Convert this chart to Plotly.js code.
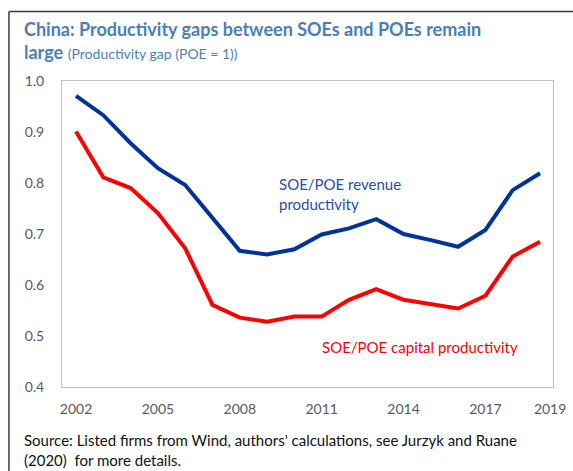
<!DOCTYPE html>
<html>
<head>
<meta charset="utf-8">
<script src="https://cdn.plot.ly/plotly-3.0.1.min.js"></script>
<style>
html,body{margin:0;padding:0;background:#fff;}
#chart{width:573px;height:471px;}
</style>
</head>
<body>
<div id="chart"></div>
<script>
const years = [2002,2003,2004,2005,2006,2007,2008,2009,2010,2011,2012,2013,2014,2015,2016,2017,2018,2019];
const revenueProductivity = [0.971,0.933,0.878,0.829,0.796,0.731,0.667,0.660,0.670,0.699,0.711,0.729,0.700,0.688,0.675,0.708,0.786,0.819];
const capitalProductivity = [0.901,0.811,0.790,0.741,0.672,0.561,0.536,0.528,0.538,0.538,0.571,0.592,0.571,0.563,0.554,0.579,0.656,0.685];
const xTickVals = [2002,2005,2008,2011,2014,2017,2019.37];
const xTickText = ['2002','2005','2008','2011','2014','2017','2019'];
const yTickVals = [0.4,0.5,0.6,0.7,0.8,0.9,1.0];

const FONT = 'Lato, "Open Sans", sans-serif';
const BLUE_LINE = '#003399';
const BLUE_TEXT = '#1f4ea8';
const RED = '#ff0000';
const TITLE_BLUE = '#4a7ebb';

const traces = [
  {x: years, y: revenueProductivity, type: 'scatter', mode: 'lines', name: 'SOE/POE revenue productivity',
   line: {color: BLUE_LINE, width: 4}, hoverinfo: 'skip'},
  {x: years, y: capitalProductivity, type: 'scatter', mode: 'lines', name: 'SOE/POE capital productivity',
   line: {color: RED, width: 4}, hoverinfo: 'skip'}
];

const layout = {
  width: 573, height: 471,
  margin: {l: 62, r: 20, t: 81, b: 84},
  paper_bgcolor: '#ffffff', plot_bgcolor: '#ffffff',
  showlegend: false,
  font: {family: FONT, size: 14, color: '#595959'},
  xaxis: {
    range: [2001.487, 2019.476], tickvals: xTickVals, ticktext: xTickText,
    showgrid: false, zeroline: false, showline: true, mirror: true,
    linecolor: '#bfbfbf', linewidth: 1, ticks: '', ticklabelstandoff: 9,
    tickfont: {family: FONT, size: 14, color: '#595959'}
  },
  yaxis: {
    range: [0.4, 1.0], tickvals: yTickVals, tickformat: '.1f',
    showgrid: false, zeroline: false, showline: true, mirror: true,
    linecolor: '#bfbfbf', linewidth: 1, ticks: '', ticklabelstandoff: 14,
    tickfont: {family: FONT, size: 14, color: '#595959'}
  },
  shapes: [
    {type: 'line', xref: 'paper', yref: 'paper', x0: -0.108, x1: 2, y0: 1.227, y1: 1.227,
     line: {color: '#3a3a3a', width: 1.5}},
    {type: 'line', xref: 'paper', yref: 'paper', x0: -0.108, x1: -0.108, y0: 1.227, y1: -0.4,
     line: {color: '#3a3a3a', width: 1.5}}
  ],
  annotations: [
    {xref: 'paper', yref: 'paper', x: -0.0815, y: 1.212, xanchor: 'left', yanchor: 'top', align: 'left',
     showarrow: false,
     text: '<b>China: Productivity gaps between SOEs and POEs remain<br>large</b> <span style="font-size:14px">(Productivity gap (POE = 1))</span>',
     font: {family: FONT, size: 18, color: TITLE_BLUE}},
    {xref: 'x', yref: 'y', x: 2009.37, y: 0.82, xanchor: 'left', yanchor: 'top', align: 'left',
     showarrow: false, text: 'SOE/POE revenue<br>productivity',
     font: {family: FONT, size: 15, color: BLUE_TEXT}},
    {xref: 'x', yref: 'y', x: 2010.95, y: 0.478, xanchor: 'left', yanchor: 'middle', align: 'left',
     showarrow: false, text: 'SOE/POE capital productivity',
     font: {family: FONT, size: 15, color: RED}},
    {xref: 'paper', yref: 'paper', x: -0.0815, y: -0.136, xanchor: 'left', yanchor: 'top', align: 'left',
     showarrow: false,
     text: "Source: Listed firms from Wind, authors' calculations, see Jurzyk and Ruane<br>(2020)  for more details.",
     font: {family: FONT, size: 15, color: '#111111'}}
  ]
};

Plotly.newPlot('chart', traces, layout, {displayModeBar: false, staticPlot: true});
</script>
</body>
</html>
